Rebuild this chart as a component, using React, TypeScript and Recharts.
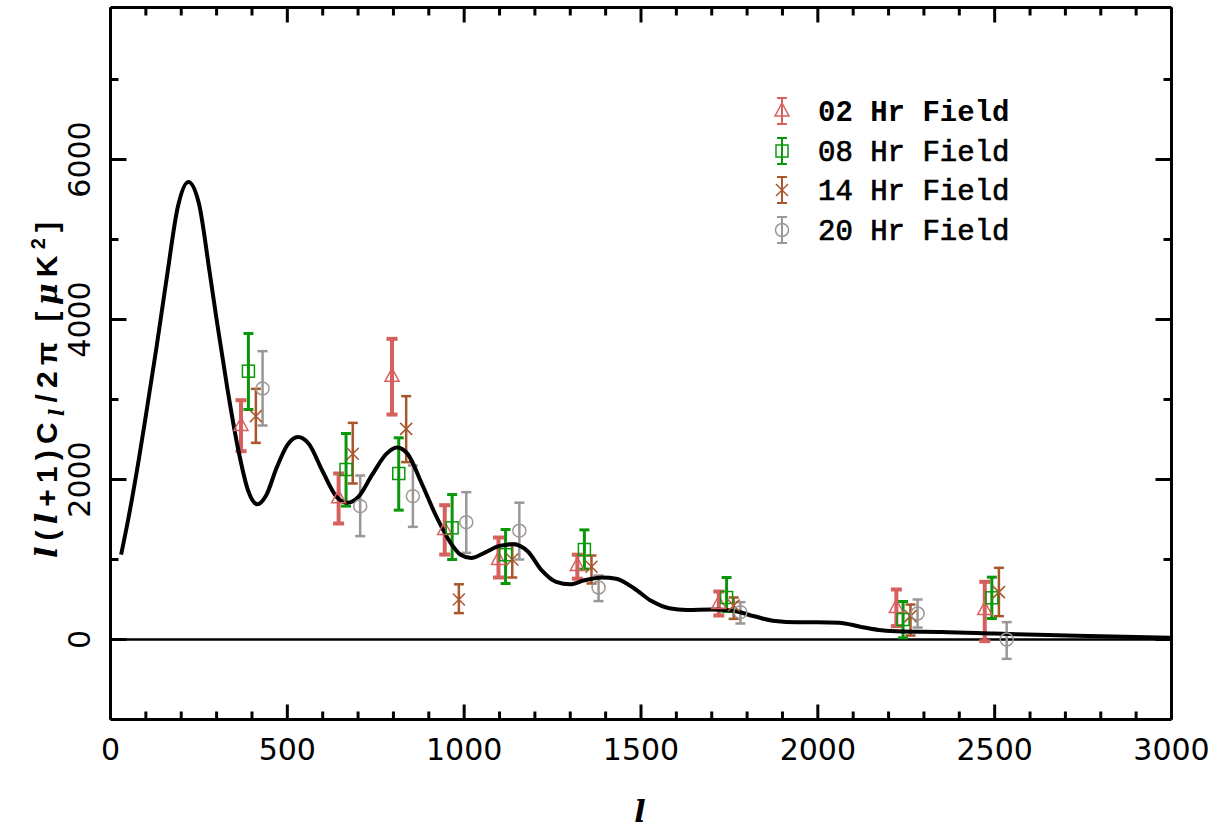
import React from 'react';
import { ComposedChart, Line, Scatter, ErrorBar, XAxis, YAxis, ReferenceLine, Legend } from 'recharts';

const W = 1222;
const H = 829;

// Theory curve
const theoryL = [30, 50, 80, 100, 130, 160, 190, 220, 250, 280, 300, 330, 360, 390, 415, 440, 470, 500, 530, 560, 600, 640, 670, 700, 740, 780, 810, 840, 880, 920, 960, 990, 1020, 1060, 1100, 1140, 1180, 1220, 1260, 1300, 1340, 1390, 1430, 1480, 1530, 1580, 1630, 1700, 1760, 1820, 1880, 1940, 2000, 2060, 2120, 2180, 2240, 2350, 2500, 2650, 2800, 3000];
const theoryCl = [1060, 1500, 2250, 2800, 3650, 4550, 5400, 5720, 5450, 4600, 4000, 3150, 2400, 1850, 1690, 1800, 2150, 2430, 2530, 2450, 2100, 1780, 1710, 1780, 2060, 2320, 2400, 2320, 1950, 1550, 1220, 1060, 1020, 1090, 1170, 1190, 1100, 860, 720, 690, 740, 775, 760, 640, 480, 390, 370, 375, 360, 290, 230, 215, 215, 210, 160, 115, 100, 95, 75, 55, 40, 20];

// 02 Hr Field
const f02L = [369, 645, 796, 945, 1097, 1320, 1720, 2222, 2472];
const f02V = [2675, 1771, 3292, 1375, 1000, 925, 450, 400, 375];
const f02Lo = [2354, 1450, 2812, 1062, 775, 760, 300, 167, -21];
const f02Hi = [2991, 2075, 3758, 1679, 1275, 1060, 600, 625, 721];

// 08 Hr Field
const f08L = [390, 666, 815, 966, 1117, 1340, 1742, 2241, 2492];
const f08V = [3354, 2125, 2075, 1396, 1060, 1125, 525, 250, 521];
const f08Lo = [2875, 1667, 1617, 1000, 700, 880, 350, 21, 262];
const f08Hi = [3825, 2575, 2521, 1812, 1375, 1370, 775, 475, 779];

// 14 Hr Field
const f14L = [411, 685, 836, 985, 1136, 1360, 1762, 2262, 2512];
const f14V = [2792, 2321, 2633, 500, 1000, 910, 425, 292, 592];
const f14Lo = [2458, 1950, 2217, 330, 775, 700, 258, 50, 292];
const f14Hi = [3133, 2708, 3042, 690, 1200, 1050, 525, 437, 896];

// 20 Hr Field
const f20L = [430, 706, 855, 1006, 1156, 1380, 1781, 2282, 2534];
const f20V = [3137, 1667, 1792, 1467, 1360, 650, 342, 325, 0];
const f20Lo = [2675, 1292, 1408, 1083, 1000, 480, 200, 150, -242];
const f20Hi = [3604, 2050, 2175, 1842, 1710, 800, 467, 500, 217];

const xTicks = [0, 100, 200, 300, 400, 500, 600, 700, 800, 900, 1000, 1100, 1200, 1300, 1400, 1500, 1600, 1700, 1800, 1900, 2000, 2100, 2200, 2300, 2400, 2500, 2600, 2700, 2800, 2900, 3000];
const xLabelTicks = [0, 500, 1000, 1500, 2000, 2500, 3000];
const yTicks = [0, 1000, 2000, 3000, 4000, 5000, 6000, 7000];
const yLabelTicks = [0, 2000, 4000, 6000];

const legendLabels = ['02 Hr Field', '08 Hr Field', '14 Hr Field', '20 Hr Field'];

const COLORS = { red: '#d6605e', green: '#0a980a', brown: '#a8562c', gray: '#9c9696' };

const theoryData = theoryL.map((l, i) => ({ l, cl: theoryCl[i] }));
const makeField = (ls: number[], vs: number[], lo: number[], hi: number[]) =>
  ls.map((l, i) => ({ l, v: vs[i], err: [vs[i] - lo[i], hi[i] - vs[i]] }));

const d02 = makeField(f02L, f02V, f02Lo, f02Hi);
const d08 = makeField(f08L, f08V, f08Lo, f08Hi);
const d14 = makeField(f14L, f14V, f14Lo, f14Hi);
const d20 = makeField(f20L, f20V, f20Lo, f20Hi);

const drawMarker = (kind: string, cx: number, cy: number, color: string, sw = 1.5) => {
  if (kind === 'tri')
    return <path d={`M${cx},${cy - 8} L${cx + 7},${cy + 5} L${cx - 7},${cy + 5} Z`} fill="none" stroke={color} strokeWidth={sw} />;
  if (kind === 'sq')
    return <rect x={cx - 6} y={cy - 6} width={12} height={12} fill="none" stroke={color} strokeWidth={sw} />;
  if (kind === 'x')
    return (
      <g stroke={color} strokeWidth={sw}>
        <line x1={cx - 6} y1={cy - 6} x2={cx + 6} y2={cy + 6} />
        <line x1={cx - 6} y1={cy + 6} x2={cx + 6} y2={cy - 6} />
      </g>
    );
  return <circle cx={cx} cy={cy} r={6.5} fill="none" stroke={color} strokeWidth={sw} />;
};

const TICK_W = 3;

const renderBottomTick = (props: any) => {
  const { x, y, payload } = props;
  const v = payload.value;
  const major = xLabelTicks.includes(v);
  return (
    <g>
      <line x1={x} x2={x} y1={y} y2={y - (major ? 15 : 8)} stroke="#000" strokeWidth={TICK_W} />
      {major && (
        <text x={x} y={y + 40} textAnchor="middle" fontFamily="DejaVu Sans" fontSize={30} fill="#000">
          {v}
        </text>
      )}
    </g>
  );
};

const renderTopTick = (props: any) => {
  const { x, y, payload } = props;
  const major = xLabelTicks.includes(payload.value);
  return <line x1={x} x2={x} y1={y} y2={y + (major ? 15 : 8)} stroke="#000" strokeWidth={TICK_W} />;
};

const renderLeftTick = (props: any) => {
  const { x, y, payload } = props;
  const v = payload.value;
  const major = yLabelTicks.includes(v);
  return (
    <g>
      <line x1={x} x2={x + (major ? 16 : 8)} y1={y} y2={y} stroke="#000" strokeWidth={TICK_W} />
      {major && (
        <text transform={`translate(${x - 21},${y}) rotate(-90)`} textAnchor="middle" fontFamily="DejaVu Sans" fontSize={30} fill="#000">
          {v}
        </text>
      )}
    </g>
  );
};

const renderRightTick = (props: any) => {
  const { x, y, payload } = props;
  const major = yLabelTicks.includes(payload.value);
  return <line x1={x} x2={x - (major ? 16 : 8)} y1={y} y2={y} stroke="#000" strokeWidth={TICK_W} />;
};

const legendKinds = ['tri', 'sq', 'x', 'circ'];
const legendColors = [COLORS.red, COLORS.green, COLORS.brown, COLORS.gray];

const renderLegend = () => (
  <svg width={270} height={170} style={{ display: 'block' }}>
    {legendLabels.map((lab, i) => {
      const cy = [26, 66, 105, 145][i];
      const sx = 27;
      const c = legendColors[i];
      return (
        <g key={lab}>
          <g stroke={c} strokeWidth={2}>
            <line x1={sx} x2={sx} y1={cy - 13} y2={cy + 13} />
            <line x1={sx - 5} x2={sx + 5} y1={cy - 13} y2={cy - 13} />
            <line x1={sx - 5} x2={sx + 5} y1={cy + 13} y2={cy + 13} />
          </g>
          {drawMarker(legendKinds[i], sx, cy, c, 1.5)}
          <text
            x={63}
            y={cy + 9.5}
            fontFamily="Liberation Mono"
            fontSize={29}
            fontWeight={i === 0 ? 'bold' : 'normal'}
            stroke={i === 0 ? 'none' : '#000'}
            strokeWidth={i === 0 ? 0 : 0.7}
            fill="#000"
          >
            {lab}
          </text>
        </g>
      );
    })}
  </svg>
);

const YTitle = () => (
  <text
    transform="translate(57,390) rotate(-90)"
    textAnchor="middle"
    fontFamily="Liberation Sans"
    fontWeight="bold"
    fontSize={30}
    fill="#000"
    textLength={336}
    lengthAdjust="spacing"
  >
    <tspan fontFamily="DejaVu Serif" fontStyle="italic">l</tspan>
    <tspan>(</tspan>
    <tspan fontFamily="DejaVu Serif" fontStyle="italic">l</tspan>
    <tspan>+1)C</tspan>
    <tspan dy={7} fontSize={20} fontFamily="DejaVu Serif" fontStyle="italic">l</tspan>
    <tspan dy={-7}>/2π [</tspan>
    <tspan fontFamily="DejaVu Serif" fontStyle="italic">μ</tspan>
    <tspan>K</tspan>
    <tspan dy={-12} fontSize={20}>2</tspan>
    <tspan dy={12}>]</tspan>
  </text>
);

const XTitle = () => (
  <text x={640} y={822} textAnchor="middle" fontFamily="DejaVu Serif" fontStyle="italic" fontWeight="bold" fontSize={30} fill="#000">
    l
  </text>
);

export default function App() {
  return (
    <div style={{ position: 'absolute', left: 0, top: 0, width: W, height: H, background: '#fff' }}>
      <ComposedChart width={W} height={H} margin={{ top: 6.5, right: 49.5, bottom: 108.5, left: 109.5 }}>
        <XAxis
          xAxisId="b"
          type="number"
          dataKey="l"
          domain={[0, 3000]}
          ticks={xTicks}
          interval={0}
          orientation="bottom"
          height={1}
          tickSize={0}
          tickMargin={0}
          tickLine={false}
          axisLine={{ stroke: '#000', strokeWidth: 3 }}
          tick={renderBottomTick}
          allowDataOverflow
          label={{ content: () => <XTitle /> }}
        />
        <XAxis
          xAxisId="t"
          type="number"
          dataKey="l"
          domain={[0, 3000]}
          ticks={xTicks}
          interval={0}
          orientation="top"
          height={1}
          tickSize={0}
          tickMargin={0}
          tickLine={false}
          axisLine={{ stroke: '#000', strokeWidth: 3 }}
          tick={renderTopTick}
          allowDataOverflow
        />
        <YAxis
          yAxisId="l"
          type="number"
          domain={[-1000, 7900]}
          ticks={yTicks}
          interval={0}
          orientation="left"
          width={1}
          tickSize={0}
          tickMargin={0}
          tickLine={false}
          axisLine={{ stroke: '#000', strokeWidth: 3 }}
          tick={renderLeftTick}
          allowDataOverflow
          label={{ content: () => <YTitle /> }}
        />
        <YAxis
          yAxisId="r"
          type="number"
          domain={[-1000, 7900]}
          ticks={yTicks}
          interval={0}
          orientation="right"
          width={1}
          tickSize={0}
          tickMargin={0}
          tickLine={false}
          axisLine={{ stroke: '#000', strokeWidth: 3 }}
          tick={renderRightTick}
          allowDataOverflow
        />
        <ReferenceLine xAxisId="b" yAxisId="l" y={0} stroke="#000" strokeWidth={2.5} />
        <Scatter xAxisId="b" yAxisId="l" data={d02} dataKey="v" isAnimationActive={false} shape={(p: any) => drawMarker('tri', p.cx, p.cy, COLORS.red)}>
          <ErrorBar dataKey="err" direction="y" width={5.5} stroke={COLORS.red} strokeWidth={4} isAnimationActive={false} />
        </Scatter>
        <Scatter xAxisId="b" yAxisId="l" data={d08} dataKey="v" isAnimationActive={false} shape={(p: any) => drawMarker('sq', p.cx, p.cy, COLORS.green)}>
          <ErrorBar dataKey="err" direction="y" width={5} stroke={COLORS.green} strokeWidth={3} isAnimationActive={false} />
        </Scatter>
        <Scatter xAxisId="b" yAxisId="l" data={d14} dataKey="v" isAnimationActive={false} shape={(p: any) => drawMarker('x', p.cx, p.cy, COLORS.brown)}>
          <ErrorBar dataKey="err" direction="y" width={5} stroke={COLORS.brown} strokeWidth={2.5} isAnimationActive={false} />
        </Scatter>
        <Scatter xAxisId="b" yAxisId="l" data={d20} dataKey="v" isAnimationActive={false} shape={(p: any) => drawMarker('circ', p.cx, p.cy, COLORS.gray)}>
          <ErrorBar dataKey="err" direction="y" width={5} stroke={COLORS.gray} strokeWidth={2.5} isAnimationActive={false} />
        </Scatter>
        <Line
          xAxisId="b"
          yAxisId="l"
          data={theoryData}
          dataKey="cl"
          type="monotone"
          stroke="#000"
          strokeWidth={4}
          dot={false}
          activeDot={false}
          isAnimationActive={false}
        />
        <Legend
          layout="vertical"
          align="center"
          verticalAlign="middle"
          wrapperStyle={{ position: 'absolute', left: 755, top: 85, width: 270, height: 170 }}
          content={renderLegend}
        />
      </ComposedChart>
    </div>
  );
}
